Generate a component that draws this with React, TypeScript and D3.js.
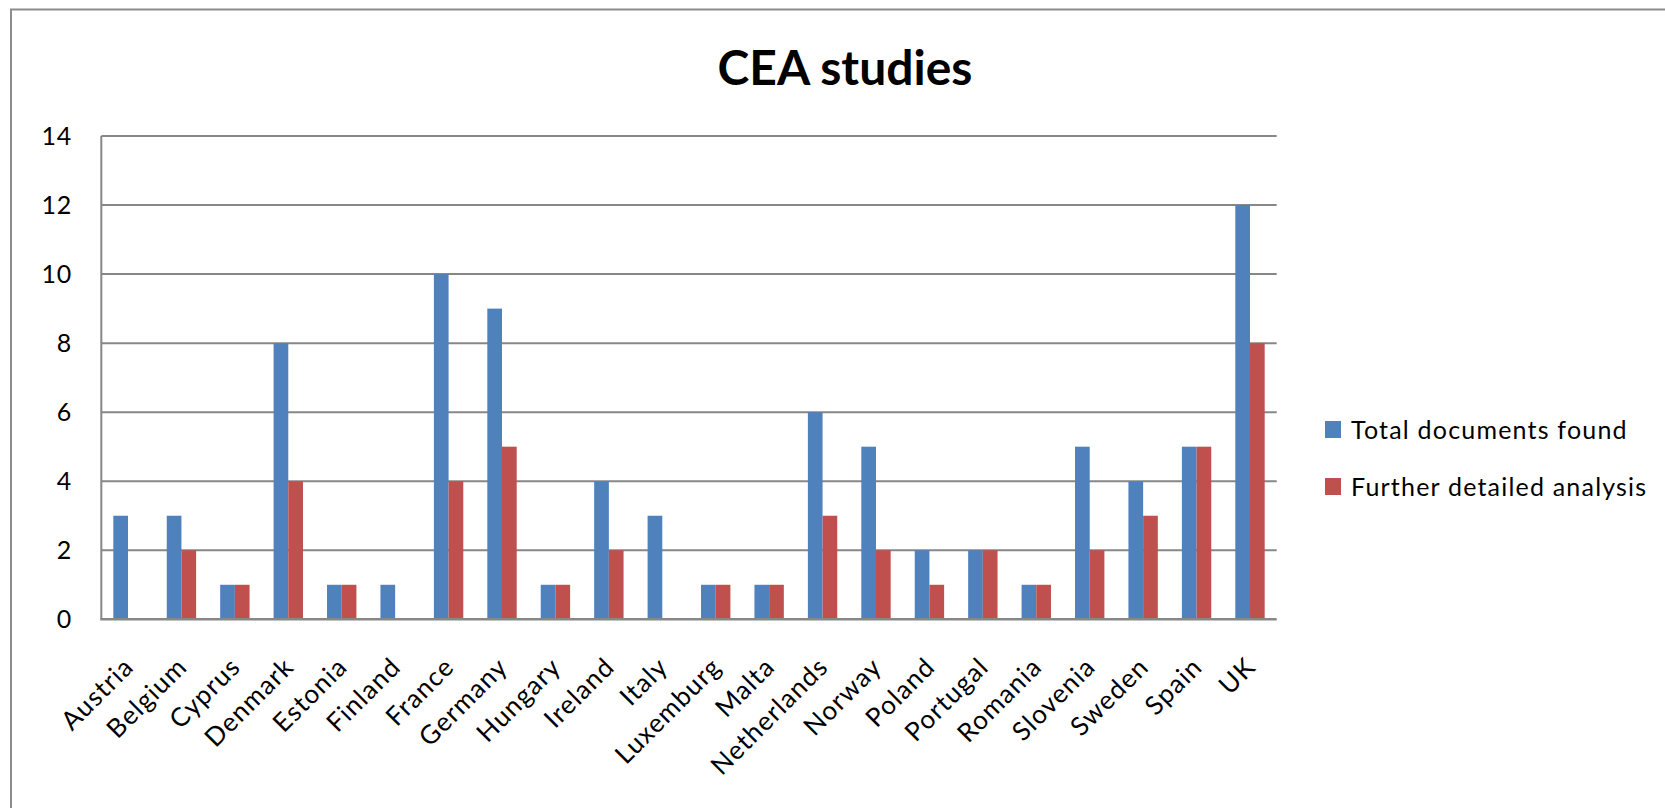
import React from "react";
import * as d3 from "d3";

// Countries on the category axis
const countries = [
  "Austria", "Belgium", "Cyprus", "Denmark", "Estonia", "Finland", "France",
  "Germany", "Hungary", "Ireland", "Italy", "Luxemburg", "Malta", "Netherlands",
  "Norway", "Poland", "Portugal", "Romania", "Slovenia", "Sweden", "Spain", "UK",
];

// Series values, one per country
const totalDocuments = [3, 3, 1, 8, 1, 1, 10, 9, 1, 4, 3, 1, 1, 6, 5, 2, 2, 1, 5, 4, 5, 12];
const furtherAnalysis = [0, 2, 1, 4, 1, 0, 4, 5, 1, 2, 0, 1, 1, 3, 2, 1, 2, 1, 2, 3, 5, 8];

const seriesNames = ["Total documents found", "Further detailed analysis"];
const seriesColors = ["#4F81BD", "#C0504D"];
const yTicks = [0, 2, 4, 6, 8, 10, 12, 14];

const W = 1665;
const H = 808;
const FONT = "Lato, 'Open Sans', sans-serif";

export default function App() {
  const left = 101.3;
  const right = 1276.7;
  const top = 136;
  const bottom = 619.3;

  const x = d3.scaleBand<string>().domain(countries).range([left, right]).paddingInner(0.45).paddingOuter(0.225);
  const inner = d3.scaleBand<number>().domain([0, 1]).range([0, x.bandwidth()]);
  const y = d3.scaleLinear().domain([0, 14]).range([bottom, top]);

  const series = [totalDocuments, furtherAnalysis];

  return (
    <svg width={W} height={H} style={{ position: "absolute", left: 0, top: 0, background: "#fff" }}>
      <rect x={0} y={0} width={W} height={H} fill="#fff" />
      {/* chart frame */}
      <path d={`M11,${H + 5} L11,9.5 L${W + 5},9.5`} fill="none" stroke="#8c8c8c" strokeWidth={2} />

      <text x={845} y={85} textAnchor="middle" fontFamily={FONT} fontWeight="bold" fontSize={48} fill="#000">
        CEA studies
      </text>

      {/* gridlines */}
      {yTicks.filter((t) => t > 0).map((t) => (
        <line key={t} x1={left} x2={right} y1={y(t)} y2={y(t)} stroke="#878787" strokeWidth={2} />
      ))}

      {/* bars */}
      {countries.map((c, i) => (
        <g key={c}>
          {series.map((s, k) =>
            s[i] > 0 ? (
              <rect
                key={k}
                x={(x(c) ?? 0) + (inner(k) ?? 0)}
                y={y(s[i])}
                width={inner.bandwidth()}
                height={y(0) - y(s[i])}
                fill={seriesColors[k]}
              />
            ) : null
          )}
        </g>
      ))}

      {/* axes */}
      <line x1={left} x2={left} y1={top} y2={bottom} stroke="#878787" strokeWidth={2} />
      <line x1={left - 1} x2={right} y1={bottom} y2={bottom} stroke="#878787" strokeWidth={2.5} />

      {yTicks.map((t) => (
        <text key={t} x={72} y={y(t)} dy="0.36em" textAnchor="end" fontFamily={FONT} fontSize={25} letterSpacing={0.8} fill="#000">
          {t}
        </text>
      ))}

      {countries.map((c) => {
        const cx = (x(c) ?? 0) + x.bandwidth() / 2;
        return (
          <text
            key={c}
            transform={`translate(${cx - 6},${bottom + 36}) rotate(-45)`}
            textAnchor="end"
            dy="0.72em"
            fontFamily={FONT}
            fontSize={26}
            letterSpacing={1.2}
            fill="#000"
          >
            {c}
          </text>
        );
      })}

      {/* legend */}
      {seriesNames.map((n, k) => (
        <g key={n} transform={`translate(1325,${421 + k * 57})`}>
          <rect x={0} y={0} width={16} height={17} fill={seriesColors[k]} />
          <text x={26} y={18} fontFamily={FONT} fontSize={25} letterSpacing={1.2} fill="#000">
            {n}
          </text>
        </g>
      ))}
    </svg>
  );
}
